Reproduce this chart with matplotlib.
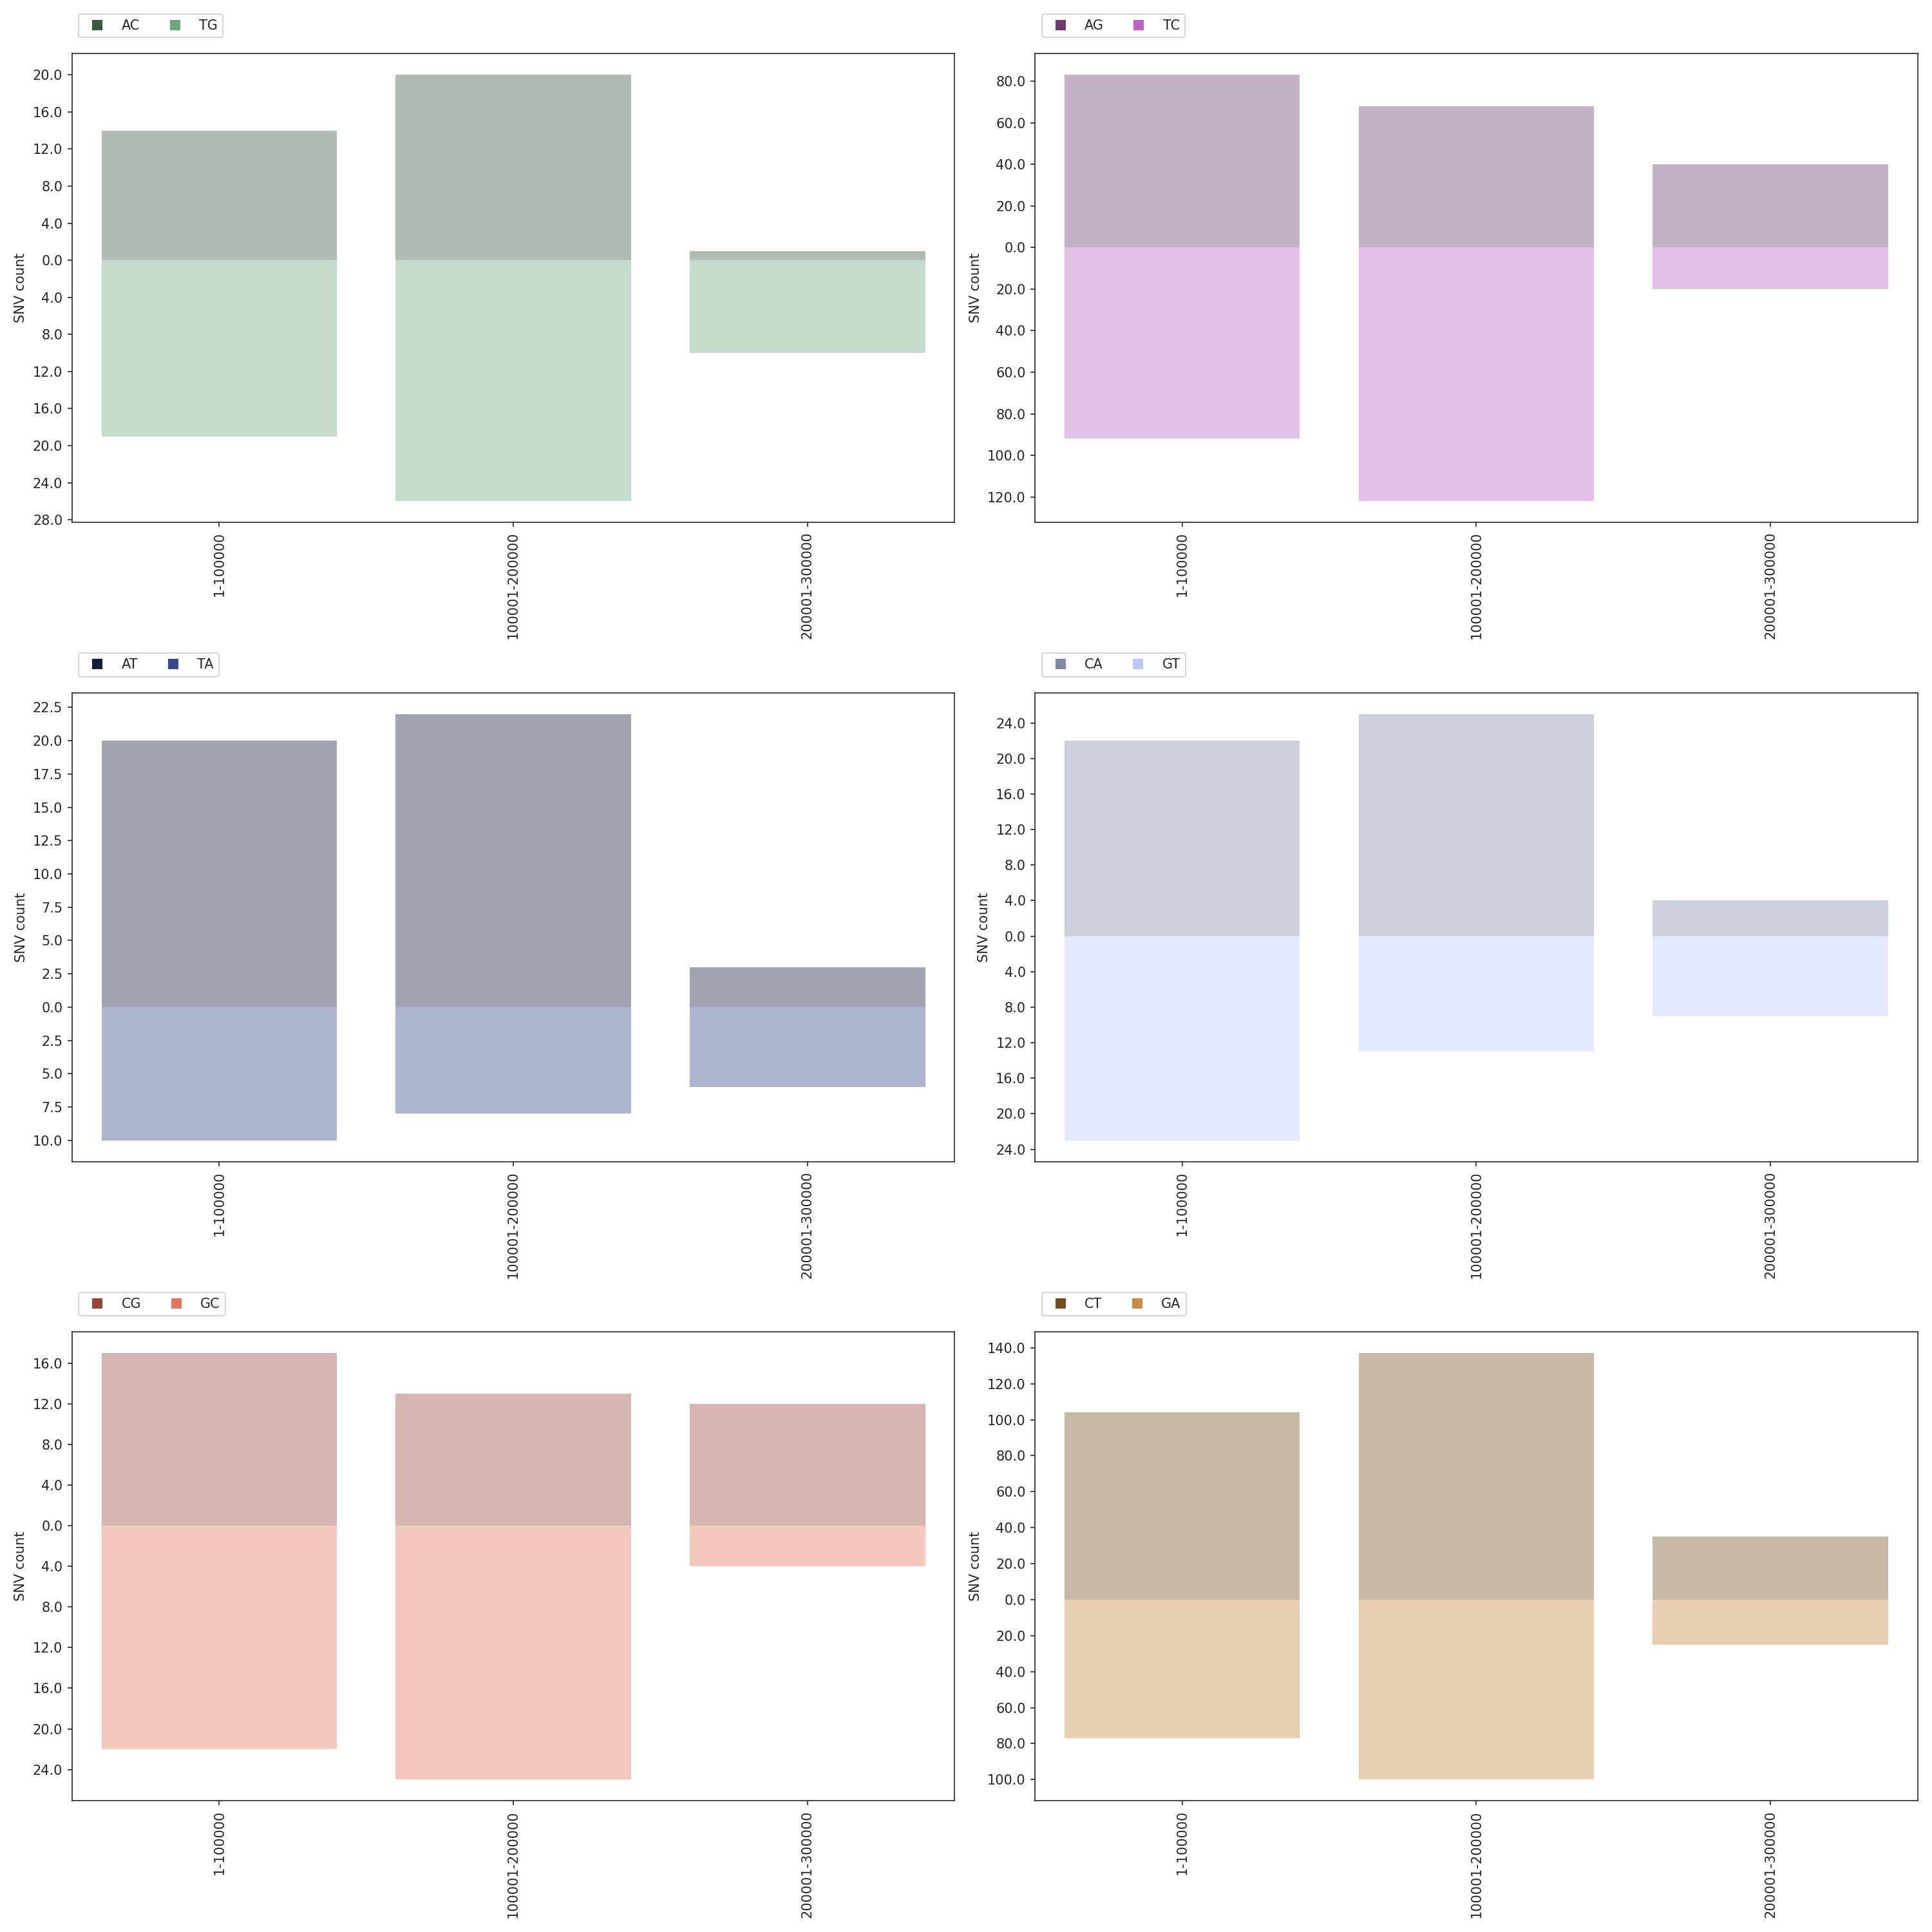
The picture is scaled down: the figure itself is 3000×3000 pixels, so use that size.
import matplotlib
matplotlib.use("Agg")
import matplotlib.pyplot as plt
from matplotlib.lines import Line2D
from matplotlib.ticker import MultipleLocator, FuncFormatter

bins = ["1-100000", "100001-200000", "200001-300000"]

# SNV counts per bin: upper series drawn above zero, lower series mirrored below
ac = [14, 20, 1]
tg = [19, 26, 10]
ag = [83, 68, 40]
tc = [92, 122, 20]
at = [20, 22, 3]
ta = [10, 8, 6]
ca = [22, 25, 4]
gt = [23, 13, 9]
cg = [17, 13, 12]
gc = [22, 25, 4]
ct = [104, 137, 35]
ga = [77, 100, 25]

panels = [
    ("AC", ac, "#3a573f", "TG", tg, "#6ca47c", 4),
    ("AG", ag, "#6c3c70", "TC", tc, "#bb62c2", 20),
    ("AT", at, "#141c3c", "TA", ta, "#34468c", 2.5),
    ("CA", ca, "#8088a8", "GT", gt, "#bcc8f6", 4),
    ("CG", cg, "#964638", "GC", gc, "#e07660", 4),
    ("CT", ct, "#744c20", "GA", ga, "#c88a44", 20),
]

DARK = "#262626"
plt.rcParams.update({
    "axes.edgecolor": DARK,
    "xtick.color": DARK,
    "ytick.color": DARK,
    "text.color": DARK,
    "axes.labelcolor": DARK,
})

fig, axs = plt.subplots(3, 2, figsize=(20, 20), dpi=150)

for ax, (up_name, up, up_col, down_name, down, down_col, step) in zip(axs.flat, panels):
    x = range(len(bins))
    ax.bar(x, up, width=0.8, color=up_col, alpha=0.4, linewidth=0)
    ax.bar(x, [-v for v in down], width=0.8, color=down_col, alpha=0.4, linewidth=0)
    ax.set_xlim(-0.5, len(bins) - 0.5)
    ax.set_xticks(list(x))
    ax.set_xticklabels(bins, rotation=90)
    ax.yaxis.set_major_locator(MultipleLocator(step))
    ax.yaxis.set_major_formatter(FuncFormatter(lambda v, pos: f"{abs(v):.1f}"))
    ax.set_ylabel("SNV count")
    handles = [
        Line2D([], [], marker="s", linestyle="none", color=up_col, markersize=6.5),
        Line2D([], [], marker="s", linestyle="none", color=down_col, markersize=6.5),
    ]
    ax.legend(handles, [up_name, down_name], ncol=2, loc="lower left",
              bbox_to_anchor=(0, 1.02), columnspacing=1.6)

fig.tight_layout()
fig.savefig("out.png", dpi=150)
